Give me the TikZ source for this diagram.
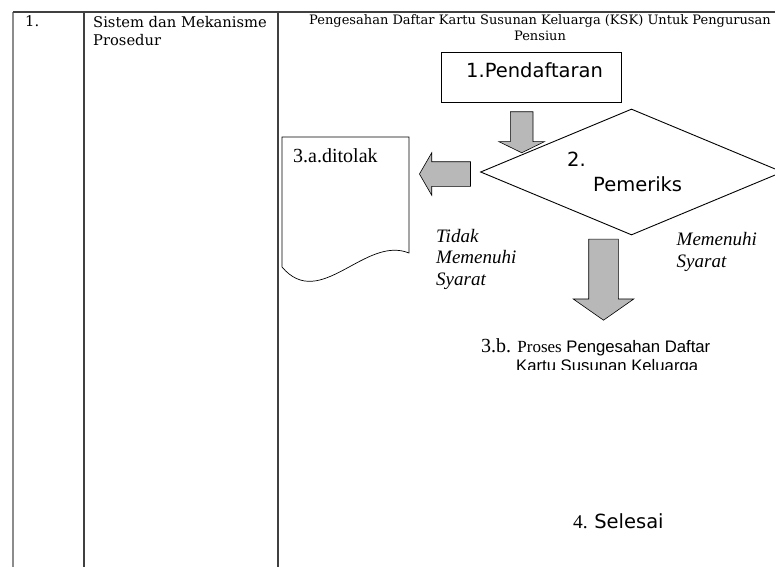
\documentclass[tikz,border=0pt]{standalone}
\usepackage{fontspec}
\setmainfont{DejaVu Serif}
\newfontfamily\timesfont{Liberation Serif}
\newfontfamily\arialfont{Liberation Sans}
\newfontfamily\dvsans{DejaVu Sans}
\usepackage{tikz}
\usetikzlibrary{shapes,arrows,positioning,calc}

\begin{document}
\begin{tikzpicture}[x=1pt, y=-1pt,
    grid/.style={line width=1.4pt, draw=black!75},
    blockarrow/.style={single arrow, draw=black, fill=black!28, line width=0.6pt, inner xsep=0pt},
    sanstext/.style={font=\dvsans\fontsize{19.5}{25}\selectfont, inner sep=0pt},
    romtext/.style={font=\timesfont\itshape\fontsize{19}{21.7}\selectfont, inner sep=0pt, align=left}]
    \useasboundingbox (0,0) rectangle (775,567);

    % Table (left columns)
    \draw[grid, draw=black!45] (13,12) -- (13,567);
    \draw[grid] (84,12) -- (84,567);
    \draw[grid] (278,12) -- (278,567);
    \draw[grid] (13,12) -- (775,12);
    \node[anchor=base west, inner sep=0pt, font=\fontsize{14.7}{18}\selectfont] (nomor) at (25,27) {1.};
    \node[anchor=north west, inner sep=0pt, align=left, font=\fontsize{14.7}{18}\selectfont] (aspek) at (93,16) {Sistem dan Mekanisme\\Prosedur};
    \node[anchor=north, inner sep=0pt, align=center, font=\fontsize{13}{15.5}\selectfont] (judul) at (540,14.5) {Pengesahan Daftar Kartu Susunan Keluarga (KSK) Untuk Pengurusan\\Pensiun};

    % Pendaftaran
    \node[draw, line width=0.9pt, minimum width=180pt, minimum height=50pt] (daftar) at (531,77) {};
    \node[sanstext, anchor=base west] (daftartxt) at (466,78) {1.Pendaftaran};
    \node[blockarrow, rotate=-90, inner ysep=11pt, minimum height=41pt, minimum width=45pt,
          single arrow head extend=11.5pt, single arrow tip angle=128] (arrdaftar) at (521.7,129.5) {};

    % Pemeriksaan
    \node[diamond, draw, line width=0.9pt, inner sep=0pt, minimum width=302pt, minimum height=126pt] (periksa) at (631.5,172) {};
    \node[sanstext, anchor=north west, align=left] (periksatxt) at (567,152) {2.\\\hspace*{26pt}Pemeriks};

    % Ditolak (document)
    \draw[line width=0.7pt] (282,137) -- (409,137) -- (409,253) .. controls (365,235) and (320,312) .. (282,267) -- cycle;
    \node[anchor=base west, inner sep=0pt, font=\timesfont\fontsize{20}{24}\selectfont] (ditolak) at (293,162.5) {3.a.ditolak};
    \node[blockarrow, rotate=180, inner ysep=12pt, minimum height=51pt, minimum width=42pt,
          single arrow head extend=9pt, single arrow tip angle=120] (arrtolak) at (448.5,174) {};
    \node[romtext, anchor=north west] (tidak) at (436,228.7) {Tidak\\Memenuhi\\Syarat};
    \node[romtext, anchor=north west] (memenuhi) at (676.5,232.4) {Memenuhi\\Syarat};

    % Proses pengesahan
    \node[blockarrow, rotate=-90, inner ysep=14.5pt, minimum height=81pt, minimum width=60pt,
          single arrow head extend=15.5pt, single arrow tip angle=110] (arrproses) at (603.5,274.5) {};
    \begin{scope}
        \clip (420,320) rectangle (775,369.5);
        \node[anchor=base west, inner sep=0pt, align=left, font=\arialfont\fontsize{16.7}{19}\selectfont] (proses) at (481,371)
            {{\timesfont\fontsize{20}{19}\selectfont 3.b.} {\timesfont\fontsize{17}{19}\selectfont Proses} Pengesahan Daftar\\\hspace*{35pt}Kartu Susunan Keluarga};
    \end{scope}

    % Selesai
    \node[sanstext, anchor=base west] (selesai) at (573,528) {{\timesfont 4. }Selesai};
\end{tikzpicture}
\end{document}
